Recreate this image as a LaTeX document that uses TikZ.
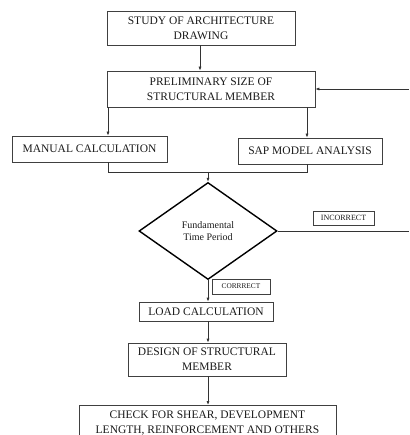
\documentclass[tikz,border=0pt]{standalone}
\usepackage{fontspec}
\setmainfont{Liberation Serif}
\usetikzlibrary{arrows.meta,shapes.geometric}
\begin{document}
\begin{tikzpicture}[x=1pt,y=-1pt,
  box/.style={draw=black!75,line width=0.7pt,rectangle,inner sep=0pt,align=center,
    font=\fontsize{11.5}{15}\selectfont,text=black!90},
  tag/.style={draw=black!75,line width=0.7pt,rectangle,inner sep=0pt,align=center,text=black!90},
  link/.style={draw=black!80,line width=0.7pt},
  arr/.style={link,-{Latex[length=4pt,width=3pt]}}]
\clip (0,0) rectangle (409,435);
\useasboundingbox (0,0) rectangle (409,435);
\node[box,minimum width=188pt,minimum height=34pt] (study) at (201,28) {STUDY OF ARCHITECTURE\\DRAWING};
\node[box,minimum width=208pt,minimum height=36pt] (prelim) at (211,89) {PRELIMINARY SIZE OF\\STRUCTURAL MEMBER};
\node[box,minimum width=155pt,minimum height=26pt] (manual) at (89.5,149) {MANUAL CALCULATION};
\node[box,minimum width=144pt,minimum height=26pt] (sap) at (310,151) {SAP MODEL ANALYSIS};
\node[diamond,draw=black,line width=1.4pt,minimum width=138pt,minimum height=97pt,inner sep=0pt,
  aspect=1.42,align=center,font=\fontsize{10}{12.7}\selectfont,text=black!90] (fund) at (208,231) {Fundamental\\Time Period};
\node[tag,minimum width=61pt,minimum height=14pt,font=\fontsize{8}{9}\selectfont] (inc) at (343.5,218) {INCORRECT};
\node[tag,minimum width=58pt,minimum height=15pt,font=\fontsize{7.3}{9}\selectfont] (cor) at (241,286.5) {CORRRECT};
\node[box,minimum width=134pt,minimum height=19pt] (load) at (206,311.5) {LOAD CALCULATION};
\node[box,minimum width=158pt,minimum height=33pt] (design) at (207,359.5) {DESIGN OF STRUCTURAL\\MEMBER};
\node[box,minimum width=257pt,minimum height=35pt,anchor=north] (check) at (207.5,405) {CHECK FOR SHEAR, DEVELOPMENT\\LENGTH, REINFORCEMENT AND OTHERS};
% connectors
\draw[arr] (study.south -| 200,0) -- (prelim.north -| 200,0);
\coordinate (rin) at (409,89);
\draw[arr] (rin) -- (prelim.east);
\draw[arr] (prelim.south -| 108,0) -- (manual.north -| 108,0);
\draw[arr] (prelim.south -| 307,0) -- (sap.north -| 307,0);
\coordinate (jl) at (108,172);
\coordinate (jr) at (307,172);
\coordinate (jm) at (208,172);
\draw[link] (manual.south -| jl) -- (jl) -- (jr) -- (sap.south -| jr);
\draw[arr] (jm) -- (fund.north);
\coordinate (rout) at (409,231);
\draw[link] (fund.east) -- (rout);
\draw[arr] (fund.south) -- (load.north -| fund.south);
\draw[arr] (load.south -| 208,0) -- (design.north -| 208,0);
\draw[arr] (design.south -| 208,0) -- (check.north -| 208,0);
\end{tikzpicture}
\end{document}
